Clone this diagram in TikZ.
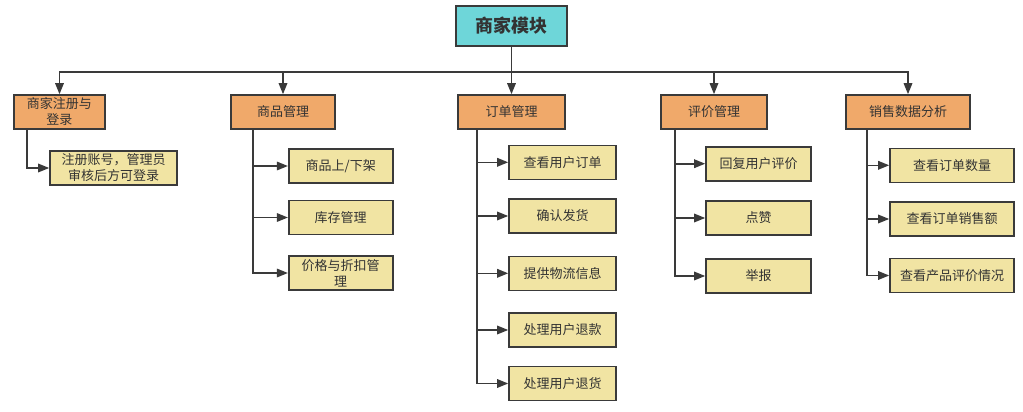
\documentclass[tikz,border=0pt]{standalone}
\usepackage{fontspec}
\setmainfont{Noto Sans CJK SC}
\usetikzlibrary{arrows.meta}
\definecolor{rootfill}{HTML}{6ED6D9}
\definecolor{lonefill}{HTML}{F0A96A}
\definecolor{leaffill}{HTML}{F1E4A3}
\definecolor{edge}{HTML}{3A3A3A}
\definecolor{txt}{HTML}{333333}
\begin{document}
\begin{tikzpicture}[x=1pt,y=-1pt,
  box/.style={draw=edge, line width=1.6pt, inner sep=0pt, align=center, text=txt,
    font=\fontsize{13}{16}\selectfont},
  rootbox/.style={box, fill=rootfill, minimum width=111, minimum height=40,
    font=\fontsize{18}{20}\selectfont\bfseries},
  lone/.style={box, fill=lonefill, minimum height=34},
  leaf/.style={box, fill=leaffill, minimum height=34},
  arr/.style={draw=edge, line width=1.6pt, -{Triangle[length=11pt,width=8.5pt]}}]
\useasboundingbox[fill=white] (0,0) rectangle (1023,412);

\node[rootbox] (root) at (511.5,26) {商家模块};

\node[lone, minimum width=91]  (a) at (59.5,112) {商家注册与\\登录};
\node[lone, minimum width=104] (b) at (283,112) {商品管理};
\node[lone, minimum width=107] (c) at (511.5,112) {订单管理};
\node[lone, minimum width=106] (d) at (714,112) {评价管理};
\node[lone, minimum width=124] (e) at (908,112) {销售数据分析};

\node[leaf, minimum width=127] (a1) at (113.5,168) {注册账号，管理员\\审核后方可登录};

\node[leaf, minimum width=104] (b1) at (340.7,166) {商品上/下架};
\node[leaf, minimum width=104] (b2) at (340.7,217.5) {库存管理};
\node[leaf, minimum width=104] (b3) at (340.7,273) {价格与折扣管\\理};

\node[leaf, minimum width=107] (c1) at (562.5,162.3) {查看用户订单};
\node[leaf, minimum width=107] (c2) at (562.5,216) {确认发货};
\node[leaf, minimum width=107] (c3) at (562.5,273.3) {提供物流信息};
\node[leaf, minimum width=107] (c4) at (562.5,330) {处理用户退款};
\node[leaf, minimum width=107] (c5) at (562.5,383.5) {处理用户退货};

\node[leaf, minimum width=105] (d1) at (758.5,163.7) {回复用户评价};
\node[leaf, minimum width=105] (d2) at (758.5,218) {点赞};
\node[leaf, minimum width=105] (d3) at (758.5,276) {举报};

\node[leaf, minimum width=124] (e1) at (952,165.3) {查看订单数量};
\node[leaf, minimum width=124] (e2) at (952,219) {查看订单销售额};
\node[leaf, minimum width=124] (e3) at (952,275.5) {查看产品评价情况};

\foreach \n in {a,b,c,d,e}
  \draw[arr] (root.south) -- ++(0,25) -| (\n.north);

\draw[arr] ([xshift=14pt]a.south west) |- (a1.west);
\foreach \n in {b1,b2,b3}
  \draw[arr] ([xshift=22.5pt]b.south west) |- (\n.west);
\foreach \n in {c1,c2,c3,c4,c5}
  \draw[arr] ([xshift=20pt]c.south west) |- (\n.west);
\foreach \n in {d1,d2,d3}
  \draw[arr] ([xshift=15pt]d.south west) |- (\n.west);
\foreach \n in {e1,e2,e3}
  \draw[arr] ([xshift=22pt]e.south west) |- (\n.west);
\end{tikzpicture}
\end{document}
